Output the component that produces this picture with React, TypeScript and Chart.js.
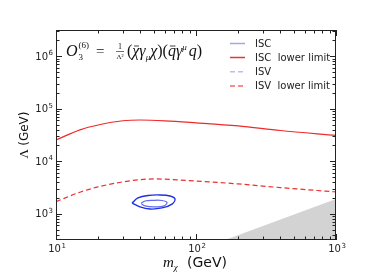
import React, { useEffect, useRef } from "react";
import { Chart, registerables } from "chart.js";
Chart.register(...registerables);

// ---- data ----
const xRange = [10, 1000];
const yRange = [316.2, 3.162e6];

const iscLowerX = [10, 15, 20, 30, 40, 60, 100, 200, 400, 1000];
const iscLowerY = [25400, 40000, 49000, 59000, 61000, 59000, 54000, 47000, 38500, 31000];

const isvLowerX = [10, 15, 20, 30, 50, 100, 200, 400, 1000];
const isvLowerY = [1700, 2600, 3250, 4050, 4600, 4200, 3700, 3150, 2600];

const iscContourX = [34.9, 38.5, 45.4, 55.3, 65.2, 70.8, 67.4, 57.2, 46.9, 39.8, 34.9];
const iscContourY = [1600, 2000, 2230, 2280, 2180, 1910, 1530, 1290, 1230, 1350, 1600];

const isvContourX = [40.5, 43.2, 49.3, 57.2, 62.1, 59.1, 50.1, 43.2, 40.5];
const isvContourY = [1570, 1750, 1800, 1790, 1640, 1410, 1350, 1410, 1570];

const excludedX = [161, 1000];
const excludedY = [316.2, 1900];

const xTickExps = [1, 2, 3];
const yTickExps = [3, 4, 5, 6];

const legendLabels = ["ISC", "ISC  lower limit", "ISV", "ISV  lower limit"];
const legendColors = ["#a4a4f0", "#ee3333", "#bcbcf6", "#f26a6a"];
const legendDashed = [false, false, true, true];

const pts = (xs: number[], ys: number[]) => xs.map((x, i) => ({ x, y: ys[i] }));

const SANS = '"DejaVu Sans", sans-serif';
const SERIF = '"Liberation Serif", "DejaVu Serif", serif';

function drawPow(ctx: CanvasRenderingContext2D, exp: number, x: number, y: number, align: "right" | "center") {
  ctx.font = `10px ${SANS}`;
  const wb = ctx.measureText("10").width;
  ctx.font = `7px ${SANS}`;
  const we = ctx.measureText(String(exp)).width;
  const total = wb + we + 0.5;
  let x0 = align === "right" ? x - total : x - total / 2;
  ctx.textAlign = "left";
  ctx.textBaseline = "alphabetic";
  ctx.fillStyle = "#222";
  ctx.font = `10px ${SANS}`;
  ctx.fillText("10", x0, y);
  ctx.font = `7px ${SANS}`;
  ctx.fillText(String(exp), x0 + wb + 0.5, y - 4.5);
}

const decorPlugin = {
  id: "decor",
  afterDraw(chart: any) {
    const ctx: CanvasRenderingContext2D = chart.ctx;
    const { left, right, top, bottom } = chart.chartArea;
    const xs = chart.scales.x;
    const ys = chart.scales.y;
    ctx.save();
    // frame
    ctx.strokeStyle = "#222";
    ctx.lineWidth = 1;
    ctx.strokeRect(left + 0.5, top + 0.5, right - left - 1, bottom - top - 1);

    // ticks
    const tick = (px: number, vertical: boolean, len: number) => {
      ctx.beginPath();
      if (vertical) {
        const p = Math.round(px) + 0.5;
        ctx.moveTo(p, bottom);
        ctx.lineTo(p, bottom - len);
        ctx.moveTo(p, top);
        ctx.lineTo(p, top + len);
      } else {
        const p = Math.round(px) + 0.5;
        ctx.moveTo(left, p);
        ctx.lineTo(left + len, p);
        ctx.moveTo(right, p);
        ctx.lineTo(right - len, p);
      }
      ctx.stroke();
    };
    for (let e = 0; e <= 7; e++) {
      for (let m = 1; m <= 9; m++) {
        const v = m * Math.pow(10, e);
        const len = m === 1 ? 6 : 3.5;
        if (v >= xRange[0] && v <= xRange[1]) tick(xs.getPixelForValue(v), true, len);
        if (v >= yRange[0] && v <= yRange[1]) tick(ys.getPixelForValue(v), false, len);
      }
    }

    // tick labels
    xTickExps.forEach((e) => drawPow(ctx, e, xs.getPixelForValue(Math.pow(10, e)) + 1, bottom + 12, "center"));
    yTickExps.forEach((e) => drawPow(ctx, e, left - 3, ys.getPixelForValue(Math.pow(10, e)) + 3.5, "right"));

    // x title
    ctx.fillStyle = "#111";
    ctx.textBaseline = "alphabetic";
    ctx.textAlign = "left";
    ctx.font = `italic 15px ${SERIF}`;
    const xt = 163;
    ctx.fillText("m", xt, 267);
    const wm = ctx.measureText("m").width;
    ctx.font = `italic 9px ${SERIF}`;
    ctx.fillText("χ", xt + wm, 270);
    ctx.font = `14px ${SANS}`;
    ctx.fillText("(GeV)", 187, 267);

    // y title
    ctx.save();
    ctx.translate(28, 135);
    ctx.rotate(-Math.PI / 2);
    ctx.textAlign = "left";
    ctx.font = `13px ${SERIF}`;
    const wl = ctx.measureText("Λ ").width;
    ctx.font = `12px ${SANS}`;
    const wg = ctx.measureText("(GeV)").width;
    const sx = -(wl + wg) / 2;
    ctx.font = `13px ${SERIF}`;
    ctx.fillText("Λ", sx, 0);
    ctx.font = `12px ${SANS}`;
    ctx.fillText("(GeV)", sx + wl, 0);
    ctx.restore();

    // equation
    let ex = 66;
    const base = 56;
    const put = (t: string, font: string, dy = 0) => {
      ctx.font = font;
      ctx.fillText(t, ex, base + dy);
      const w = ctx.measureText(t).width;
      ex += w;
      return w;
    };
    const bar = (x0: number, w: number, y: number) => {
      ctx.beginPath();
      ctx.lineWidth = 0.8;
      ctx.moveTo(x0 + w * 0.25, y);
      ctx.lineTo(x0 + w * 0.95, y);
      ctx.stroke();
    };
    ctx.strokeStyle = "#111";
    const big = `italic 16px ${SERIF}`;
    const up = `16px ${SERIF}`;
    const small = `9px ${SERIF}`;
    put("O", big);
    const sub0 = ex;
    ctx.font = small;
    ctx.fillText("3", sub0 + 1, base + 4);
    ctx.fillText("(6)", sub0 + 1, base - 8);
    ex = 96;
    put("=", `15px ${SERIF}`);
    // fraction
    const fx = 120;
    ctx.textAlign = "center";
    ctx.font = `8px ${SERIF}`;
    ctx.fillText("1", fx, base - 7);
    ctx.beginPath();
    ctx.lineWidth = 0.6;
    ctx.moveTo(fx - 4, base - 4.5);
    ctx.lineTo(fx + 4, base - 4.5);
    ctx.stroke();
    ctx.font = `7px ${SERIF}`;
    ctx.fillText("Λ²", fx, base + 3);
    ctx.textAlign = "left";
    ex = 127;
    put("(", up);
    let bx = ex;
    let w = put("χ", big);
    bar(bx, w, base - 10);
    put("γ", big);
    put("μ", `italic 9px ${SERIF}`, 4);
    put("χ", big);
    put(")(", up);
    bx = ex;
    w = put("q", big);
    bar(bx, w, base - 10);
    put("γ", big);
    put("μ", `italic 9px ${SERIF}`, -6);
    ex += 2;
    put("q", big);
    put(")", up);

    // legend
    const lx0 = 230, lx1 = 245, tx = 255;
    const ly = [43.5, 57.5, 71.7, 86];
    legendLabels.forEach((lab, i) => {
      ctx.beginPath();
      ctx.strokeStyle = legendColors[i];
      ctx.lineWidth = 1.5;
      ctx.setLineDash(legendDashed[i] ? [5, 3] : []);
      ctx.moveTo(lx0, ly[i]);
      ctx.lineTo(lx1, ly[i]);
      ctx.stroke();
      ctx.setLineDash([]);
      ctx.fillStyle = "#222";
      ctx.font = `10px ${SANS}`;
      ctx.textBaseline = "middle";
      ctx.fillText(lab, tx, ly[i] + 0.5);
    });
    ctx.restore();
  },
};

export default function App() {
  const ref = useRef<HTMLCanvasElement | null>(null);
  useEffect(() => {
    if (!ref.current) return;
    const chart = new Chart(ref.current, {
      type: "scatter",
      data: {
        datasets: [
          {
            data: pts(excludedX, excludedY),
            showLine: true,
            borderWidth: 0,
            borderColor: "rgba(0,0,0,0)",
            backgroundColor: "#d3d3d3",
            fill: "start",
            pointRadius: 0,
            order: 5,
          },
          {
            data: pts(iscLowerX, iscLowerY),
            showLine: true,
            borderColor: "#ee2a2a",
            borderWidth: 1.2,
            pointRadius: 0,
            tension: 0.4,
            cubicInterpolationMode: "monotone",
            fill: false,
          },
          {
            data: pts(isvLowerX, isvLowerY),
            showLine: true,
            borderColor: "#ee3030",
            borderWidth: 1.2,
            borderDash: [5, 3],
            pointRadius: 0,
            tension: 0.4,
            cubicInterpolationMode: "monotone",
            fill: false,
          },
          {
            data: pts(iscContourX, iscContourY),
            showLine: true,
            borderColor: "#1f2fe6",
            borderWidth: 1.4,
            pointRadius: 0,
            tension: 0.35,
            fill: false,
          },
          {
            data: pts(isvContourX, isvContourY),
            showLine: true,
            borderColor: "#5f6cf0",
            borderWidth: 1.2,
            pointRadius: 0,
            tension: 0.35,
            fill: false,
          },
        ],
      } as any,
      options: {
        responsive: false,
        animation: false,
        layout: { padding: { left: 56, right: 38, top: 30, bottom: 40 } },
        scales: {
          x: { type: "logarithmic", min: xRange[0], max: xRange[1], display: false },
          y: { type: "logarithmic", min: yRange[0], max: yRange[1], display: false },
        },
        plugins: { legend: { display: false }, tooltip: { enabled: false } },
      } as any,
      plugins: [decorPlugin],
    });
    return () => chart.destroy();
  }, []);
  return (
    <div style={{ position: "fixed", left: 0, top: 0, width: 374, height: 280, background: "#fff" }}>
      <canvas ref={ref} width={374} height={280} style={{ width: 374, height: 280, display: "block" }} />
    </div>
  );
}
